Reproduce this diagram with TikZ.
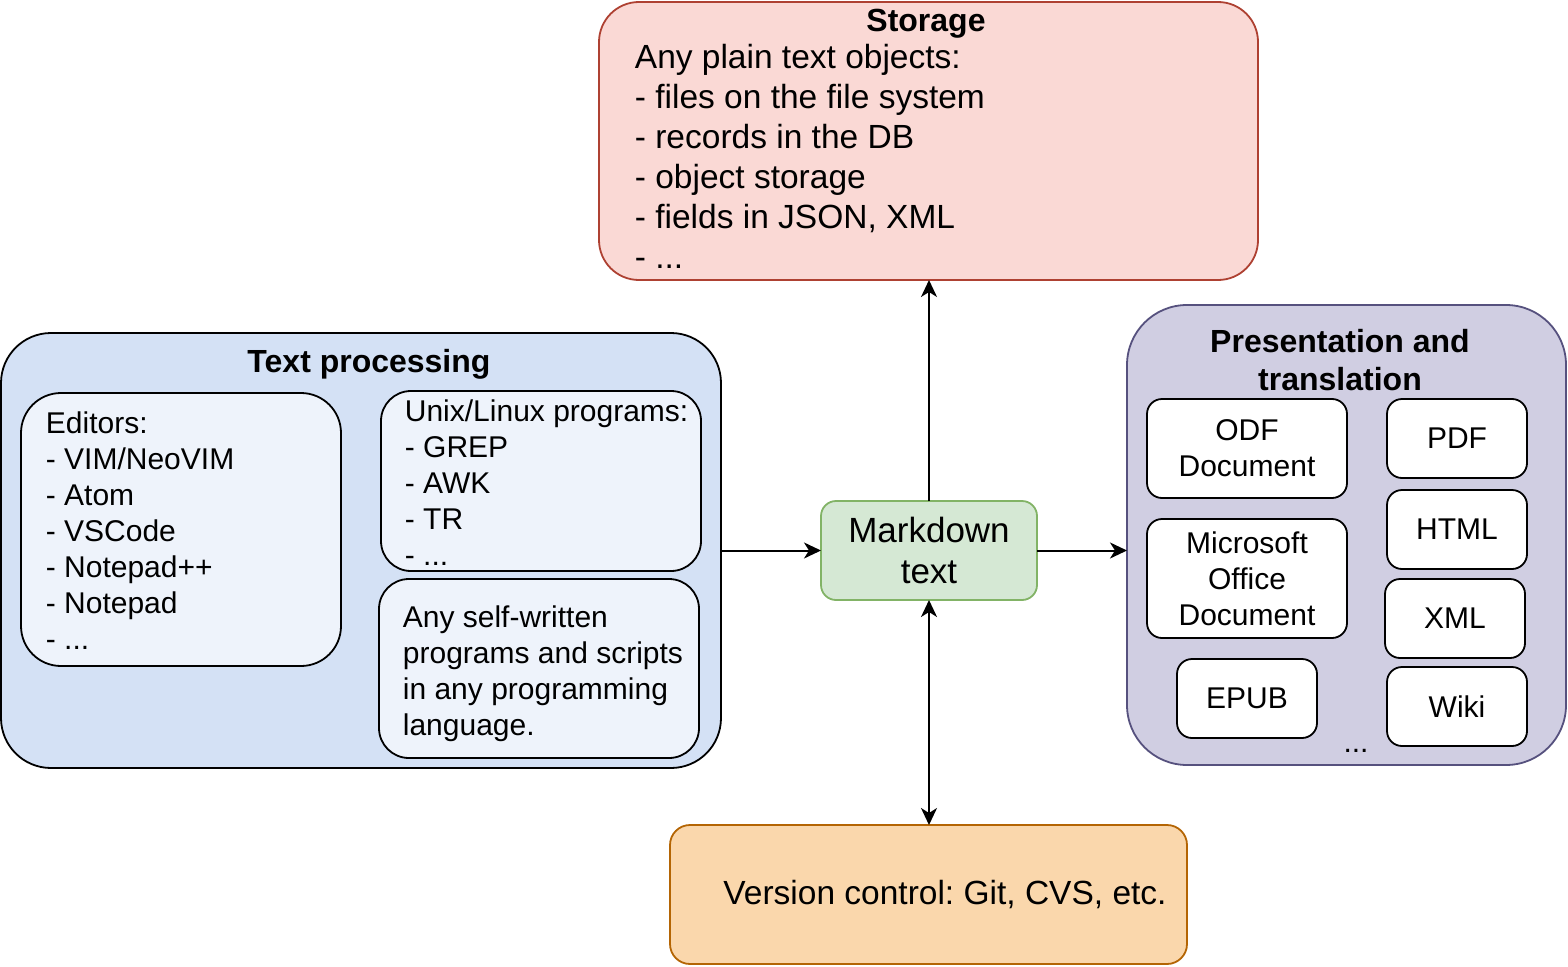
\documentclass[tikz,border=0pt]{standalone}
\usepackage{fontspec}
\setmainfont{Liberation Sans}
\usetikzlibrary{arrows.meta}
\frenchspacing

\definecolor{storage_fill}{HTML}{FAD9D5}
\definecolor{storage_line}{HTML}{AE4132}
\definecolor{proc_fill}{HTML}{D4E1F5}
\definecolor{md_fill}{HTML}{D5E8D4}
\definecolor{md_line}{HTML}{82B366}
\definecolor{pres_fill}{HTML}{D0CEE2}
\definecolor{pres_line}{HTML}{56517E}
\definecolor{vc_fill}{HTML}{FAD7AC}
\definecolor{vc_line}{HTML}{B46504}

\begin{document}
\begin{tikzpicture}[x=1pt, y=-1pt, line width=1.8pt,
group_style/.style={draw, inner sep=0pt, outer sep=0pt},
item_style/.style={draw=black, fill=white, rounded corners=15pt, inner sep=0pt, outer sep=0pt,
  align=center, font=\fontsize{30}{36}\selectfont},
sub_style/.style={draw=black, fill=white!60!proc_fill, inner sep=0pt, outer sep=0pt},
title_style/.style={inner sep=0pt, align=center, font=\bfseries\fontsize{32}{38}\selectfont},
list_style/.style={inner sep=0pt, align=left, anchor=north west, font=\fontsize{30}{36}\selectfont},
edge_style/.style={draw=black, line width=2pt, -{Stealth[length=17pt, width=16pt, inset=5pt]}}]
\useasboundingbox (0,0) rectangle (1568,966);

% storage
\node[group_style, fill=storage_fill, draw=storage_line, rounded corners=40pt,
  minimum width=659pt, minimum height=278pt] (storage) at (928.5,141) {};
\node[title_style, anchor=base] (storage_title) at (926,32) {Storage};
\node[list_style, font=\fontsize{33.5}{40}\selectfont] (storage_list) at (634,43)
  {Any plain text objects:\\- files on the file system\\- records in the DB\\- object storage\\- fields in JSON, XML\\- ...};

% text processing
\node[group_style, fill=proc_fill, rounded corners=50pt,
  minimum width=720pt, minimum height=435pt] (text_proc) at (361,550.5) {};
\node[title_style, anchor=base] (proc_title) at (369,372) {Text processing};
\node[sub_style, rounded corners=40pt, minimum width=320pt, minimum height=273pt] (editors) at (181,529.5) {};
\node[list_style] (editors_list) at (45,411)
  {Editors:\\- VIM/NeoVIM\\- Atom\\- VSCode\\- Notepad++\\- Notepad\\- ...};
\node[sub_style, rounded corners=30pt, minimum width=320pt, minimum height=180pt] (unix) at (541,481) {};
\node[list_style] (unix_list) at (404,399)
  {Unix/Linux programs:\\- GREP\\- AWK\\- TR\\- ...};
\node[sub_style, rounded corners=30pt, minimum width=320pt, minimum height=179pt] (scripts) at (539,668.5) {};
\node[list_style] (scripts_list) at (402,605)
  {Any self-written\\programs and scripts\\in any programming\\language.};

% markdown
\node[group_style, fill=md_fill, draw=md_line, rounded corners=15pt, align=center,
  font=\fontsize{35}{41}\selectfont, minimum width=216pt, minimum height=99pt] (markdown) at (929,550.5)
  {Markdown\\text};

% presentation
\node[group_style, fill=pres_fill, draw=pres_line, rounded corners=60pt,
  minimum width=439pt, minimum height=460pt] (pres) at (1346.5,535) {};
\node[title_style] (pres_title) at (1340,360) {Presentation and\\translation};
\node[item_style, minimum width=200pt, minimum height=99pt] (odf) at (1247,448.5) {ODF\\Document};
\node[item_style, minimum width=200pt, minimum height=119pt] (office) at (1247,578.5) {Microsoft\\Office\\Document};
\node[item_style, minimum width=140pt, minimum height=79pt] (epub) at (1247,698.5) {EPUB};
\node[item_style, minimum width=140pt, minimum height=79pt] (pdf) at (1457,438.5) {PDF};
\node[item_style, minimum width=140pt, minimum height=79pt] (html) at (1457,529.5) {HTML};
\node[item_style, minimum width=140pt, minimum height=79pt] (xml) at (1455,618.5) {XML};
\node[item_style, minimum width=140pt, minimum height=79pt] (wiki) at (1457,706.5) {Wiki};
\node[inner sep=0pt, anchor=base, font=\fontsize{30}{36}\selectfont] (more) at (1356,752) {...};

% version control
\node[group_style, fill=vc_fill, draw=vc_line, rounded corners=20pt,
  minimum width=517pt, minimum height=139pt] (version) at (928.5,894.5) {};
\node[inner sep=0pt, font=\fontsize{33.5}{40}\selectfont] (version_text) at (945,894.5) {Version control: Git, CVS, etc.};

\draw[edge_style] (text_proc) -- (markdown);
\draw[edge_style] (markdown.east) -- (markdown.east -| pres.west);
\draw[edge_style] (markdown.north) -- (markdown.north |- storage.south);
\draw[edge_style, {Stealth[length=17pt, width=16pt, inset=5pt]}-{Stealth[length=17pt, width=16pt, inset=5pt]}]
  (markdown.south) -- (markdown.south |- version.north);
\end{tikzpicture}
\end{document}
